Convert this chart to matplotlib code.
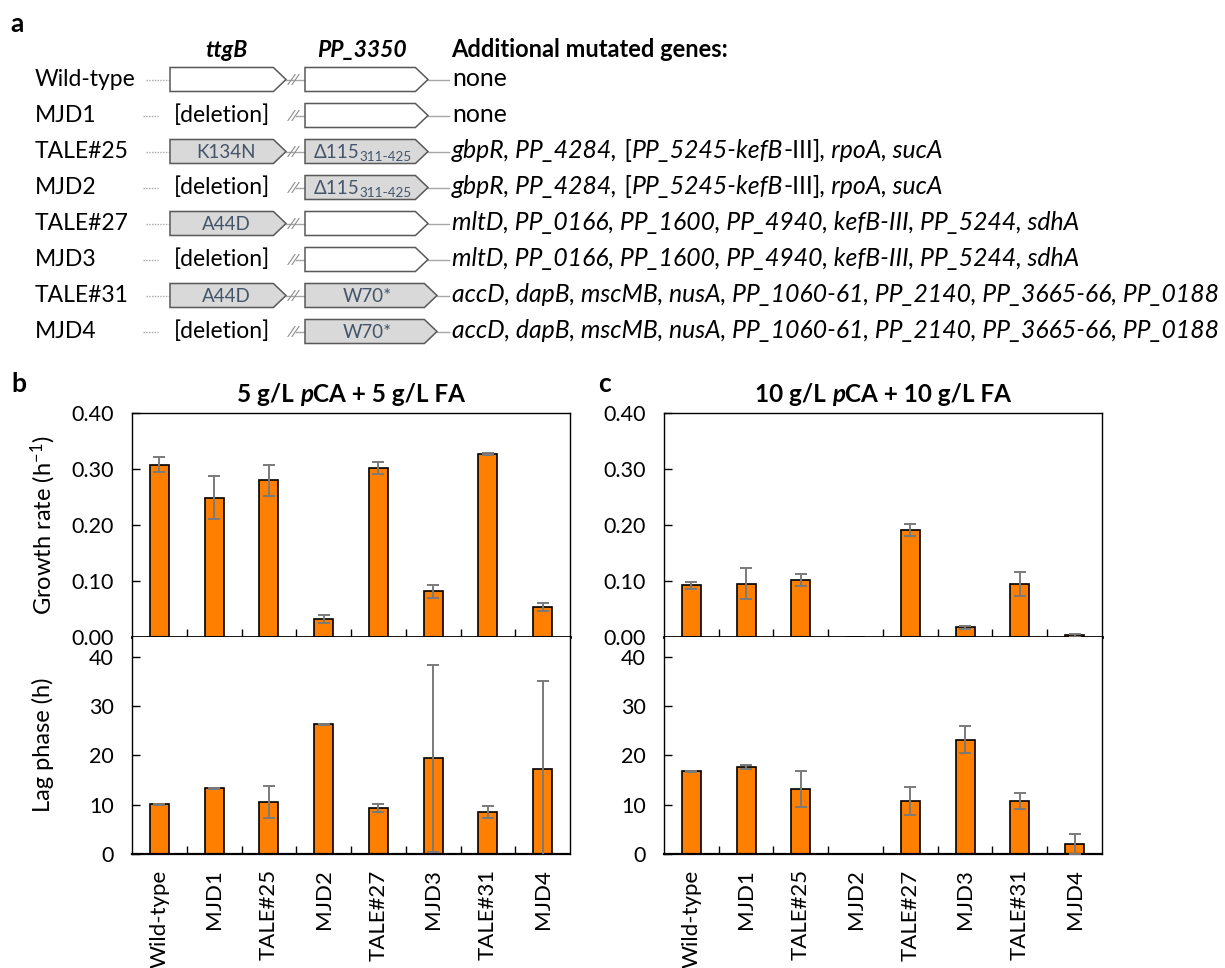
import re
import numpy as np
import matplotlib
matplotlib.use("Agg")
import matplotlib.pyplot as plt
from matplotlib.patches import Polygon

FONT = ["Lato", "DejaVu Sans"]
plt.rcParams["font.family"] = FONT
plt.rcParams["mathtext.fontset"] = "custom"
plt.rcParams["mathtext.rm"] = "Lato"
plt.rcParams["mathtext.it"] = "Lato:italic"
plt.rcParams["mathtext.bf"] = "Lato:bold"

# ---------------- data ----------------
strains = ["Wild-type", "MJD1", "TALE#25", "MJD2", "TALE#27", "MJD3", "TALE#31", "MJD4"]
ttgB_mut = ["", "[deletion]", "K134N", "[deletion]", "A44D", "[deletion]", "A44D", "[deletion]"]
pp3350_mut = ["", "", "Δ115{311-425}", "Δ115{311-425}", "", "", "W70*", "W70*"]
# italic by default; segments in {} are upright
other_genes = [
    "{none}",
    "{none}",
    "gbpR, PP_4284,{ [}PP_5245-kefB{-III]}, rpoA, sucA",
    "gbpR, PP_4284,{ [}PP_5245-kefB{-III]}, rpoA, sucA",
    "mltD, PP_0166, PP_1600, PP_4940, kefB-III, PP_5244, sdhA",
    "mltD, PP_0166, PP_1600, PP_4940, kefB-III, PP_5244, sdhA",
    "accD, dapB, mscMB, nusA, PP_1060-61, PP_2140, PP_3665-66, PP_0188",
    "accD, dapB, mscMB, nusA, PP_1060-61, PP_2140, PP_3665-66, PP_0188",
]

growth_5 = [0.308, 0.249, 0.280, 0.0315, 0.302, 0.0815, 0.327, 0.053]
growth_5_err = [0.014, 0.039, 0.028, 0.007, 0.011, 0.011, 0.002, 0.007]
lag_5 = [10.1, 13.3, 10.5, 26.3, 9.3, 19.4, 8.5, 17.3]
lag_5_err = [0.1, 0.1, 3.3, 0.1, 0.85, 19.0, 1.2, 17.8]
growth_10 = [0.092, 0.095, 0.102, 0.0, 0.191, 0.017, 0.095, 0.003]
growth_10_err = [0.007, 0.028, 0.011, np.nan, 0.011, 0.003, 0.021, 0.003]
lag_10 = [16.8, 17.6, 13.2, 0.0, 10.8, 23.2, 10.8, 2.0]
lag_10_err = [0.1, 0.35, 3.6, np.nan, 2.8, 2.8, 1.6, 2.0]

growth_ticks = [0.00, 0.10, 0.20, 0.30, 0.40]
lag_ticks = [0, 10, 20, 30, 40]
title_b = [("5 g/L ", "normal"), ("p", "italic"), ("CA + 5 g/L FA", "normal")]
title_c = [("10 g/L ", "normal"), ("p", "italic"), ("CA + 10 g/L FA", "normal")]

# ---------------- figure ----------------
W, H = 1225, 968
fig = plt.figure(figsize=(W / 100, H / 100), dpi=100)
renderer = fig.canvas.get_renderer()

ov = fig.add_axes([0, 0, 1, 1])
ov.set_xlim(0, W)
ov.set_ylim(H, 0)
ov.axis("off")


def text_width(s, **kw):
    t1 = ov.text(0, 0, "|" + s + "|", **kw)
    t2 = ov.text(0, 0, "||", **kw)
    w = t1.get_window_extent(renderer).width - t2.get_window_extent(renderer).width
    t1.remove()
    t2.remove()
    return w


def rich(x, y, parts, ha="left", draw=True):
    """parts: list of (text, kwargs, dy)"""
    widths = [text_width(t, **kw) for t, kw, dy in parts]
    total = sum(widths)
    if not draw:
        return total
    x0 = x - total / 2 if ha == "center" else x
    for (t, kw, dy), w in zip(parts, widths):
        ov.text(x0, y + dy, t, ha="left", va="baseline", **kw)
        x0 += w
    return total


def parse_genes(s, size):
    parts = []
    for seg in re.split(r"(\{[^}]*\})", s):
        if not seg:
            continue
        if seg.startswith("{"):
            parts.append((seg[1:-1], dict(fontsize=size, fontstyle="normal"), 0))
        else:
            parts.append((seg, dict(fontsize=size, fontstyle="italic"), 0))
    return parts


def parse_mut(s, size, color):
    parts = []
    for seg in re.split(r"(\{[^}]*\})", s):
        if not seg:
            continue
        if seg.startswith("{"):
            parts.append((seg[1:-1], dict(fontsize=size * 0.72, color=color), 3))
        else:
            parts.append((seg, dict(fontsize=size, color=color), 0))
    return parts


def gene_arrow(x0, tip, y, hh, fc):
    body = tip - 1.05 * hh
    ov.add_patch(Polygon([(x0, y - hh), (body, y - hh), (tip, y), (body, y + hh), (x0, y + hh)],
                         closed=True, fc=fc, ec=EDGE, lw=1.1, zorder=3))


# panel a
GRAY_LINE = "#a6a6a6"
EDGE = "#595959"
LBL = "#44546a"
row0, dy_row = 79.5, 36.0
LABEL_SIZE = 16.5
hh = 12.0
ov.text(10, 32, "a", fontsize=19, fontweight="bold", va="baseline")
rich(226, 57, [("ttgB", dict(fontsize=16.5, fontweight="bold", fontstyle="italic"), 0)], ha="center")
rich(362, 57, [("PP_3350", dict(fontsize=16.5, fontweight="bold", fontstyle="italic"), 0)], ha="center")
ov.text(451, 57, "Additional mutated genes:", fontsize=17, fontweight="bold", va="baseline")

gsize0 = 14
longest = max(rich(0, 0, parse_genes(g, gsize0), draw=False) for g in other_genes)
gsize = gsize0 * (1222 - 452) / longest

for i, name in enumerate(strains):
    y = row0 + dy_row * i
    ov.text(35, y + 6.5, name, fontsize=LABEL_SIZE, va="baseline")
    # ttgB
    if ttgB_mut[i] == "[deletion]":
        ov.plot([143, 158], [y, y], color=GRAY_LINE, lw=1.0, ls=(0, (1, 1)))
        rich(222, y + 6.5, [("[deletion]", dict(fontsize=LABEL_SIZE), 0)], ha="center")
        ov.plot([296, 305], [y, y], color=GRAY_LINE, lw=1.0)
    else:
        ov.plot([146, 170], [y, y], color=GRAY_LINE, lw=1.0, ls=(0, (1, 1)))
        fc = "white" if ttgB_mut[i] == "" else "#d9d9d9"
        gene_arrow(170, 286, y, hh, fc)
        if ttgB_mut[i]:
            rich(226, y + 6.5, parse_mut(ttgB_mut[i], 13.5, LBL), ha="center")
        ov.plot([286, 305], [y, y], color=GRAY_LINE, lw=1.0)
    for k in range(2):
        ov.plot([288 + 4 * k, 295 + 4 * k], [y + 5, y - 5], color="#8c8c8c", lw=0.8)
    # PP_3350
    fc = "white" if pp3350_mut[i] == "" else "#d9d9d9"
    tip = 437 if pp3350_mut[i].startswith("W") else 428
    gene_arrow(305, tip, y, hh, fc)
    if pp3350_mut[i]:
        rich((305 + tip) / 2 - 4, y + 6.5, parse_mut(pp3350_mut[i], 13.5, LBL), ha="center")
    ov.plot([tip, 449], [y, y], color=GRAY_LINE, lw=1.0)
    rich(452, y + 6.5, parse_genes(other_genes[i], gsize))

# ---------------- bar charts ----------------
ORANGE = "#ff8000"
x = np.arange(len(strains))


def fr(l, t, r, b):
    return [l / W, 1 - b / H, (r - l) / W, (b - t) / H]


def style_axes(ax, ylim, yticks, fmt, xlabels):
    ax.set_xlim(-0.5, len(strains) - 0.5)
    ax.set_ylim(*ylim)
    ax.set_yticks(yticks)
    ax.set_yticklabels([fmt.format(v) for v in yticks])
    ax.tick_params(axis="y", direction="in", length=6, width=1, labelsize=15.5, pad=13)
    ax.set_xticks(x)
    if xlabels:
        ax.set_xticklabels(strains, rotation=90, fontsize=16)
    else:
        ax.set_xticklabels([])
    ax.tick_params(axis="x", which="major", length=0, pad=11)
    ax.set_xticks(x[:-1] + 0.5, minor=True)
    ax.tick_params(axis="x", which="minor", direction="in", length=6, width=1)
    for s in ax.spines.values():
        s.set_linewidth(1.0)


def bars(ax, vals, errs):
    ax.bar(x, vals, width=0.35, color=ORANGE, edgecolor="black", linewidth=1.2, zorder=2)
    ax.errorbar(x, vals, yerr=errs, fmt="none", ecolor="#7a7a7a", elinewidth=1.4,
                capsize=4, capthick=1.4, zorder=3)


panels = [
    (132, 570, growth_5, growth_5_err, lag_5, lag_5_err, title_b),
    (664, 1102, growth_10, growth_10_err, lag_10, lag_10_err, title_c),
]
for l, r, g, ge, lg, lge, title in panels:
    ax1 = fig.add_axes(fr(l, 413, r, 637))
    ax2 = fig.add_axes(fr(l, 637, r, 854))
    bars(ax1, g, ge)
    bars(ax2, lg, lge)
    style_axes(ax1, (0, 0.40), growth_ticks, "{:.2f}", False)
    style_axes(ax2, (0, 44), lag_ticks, "{:.0f}", True)
    ax1.spines["bottom"].set_linewidth(2.0)
    ax2.spines["top"].set_visible(False)
    ax2.spines["bottom"].set_linewidth(1.6)
    rich((l + r) / 2, 402, [(t, dict(fontsize=17.5, fontweight="bold", fontstyle=st), 0) for t, st in title],
         ha="center")

ov.text(43, 525, "Growth rate (h$^{-1}$)", rotation=90, ha="center", va="center", fontsize=17)
ov.text(43, 745, "Lag phase (h)", rotation=90, ha="center", va="center", fontsize=17)
ov.text(11, 392, "b", fontsize=19, fontweight="bold", va="baseline")
ov.text(598, 392, "c", fontsize=19, fontweight="bold", va="baseline")

fig.savefig("out.png", dpi=100)
